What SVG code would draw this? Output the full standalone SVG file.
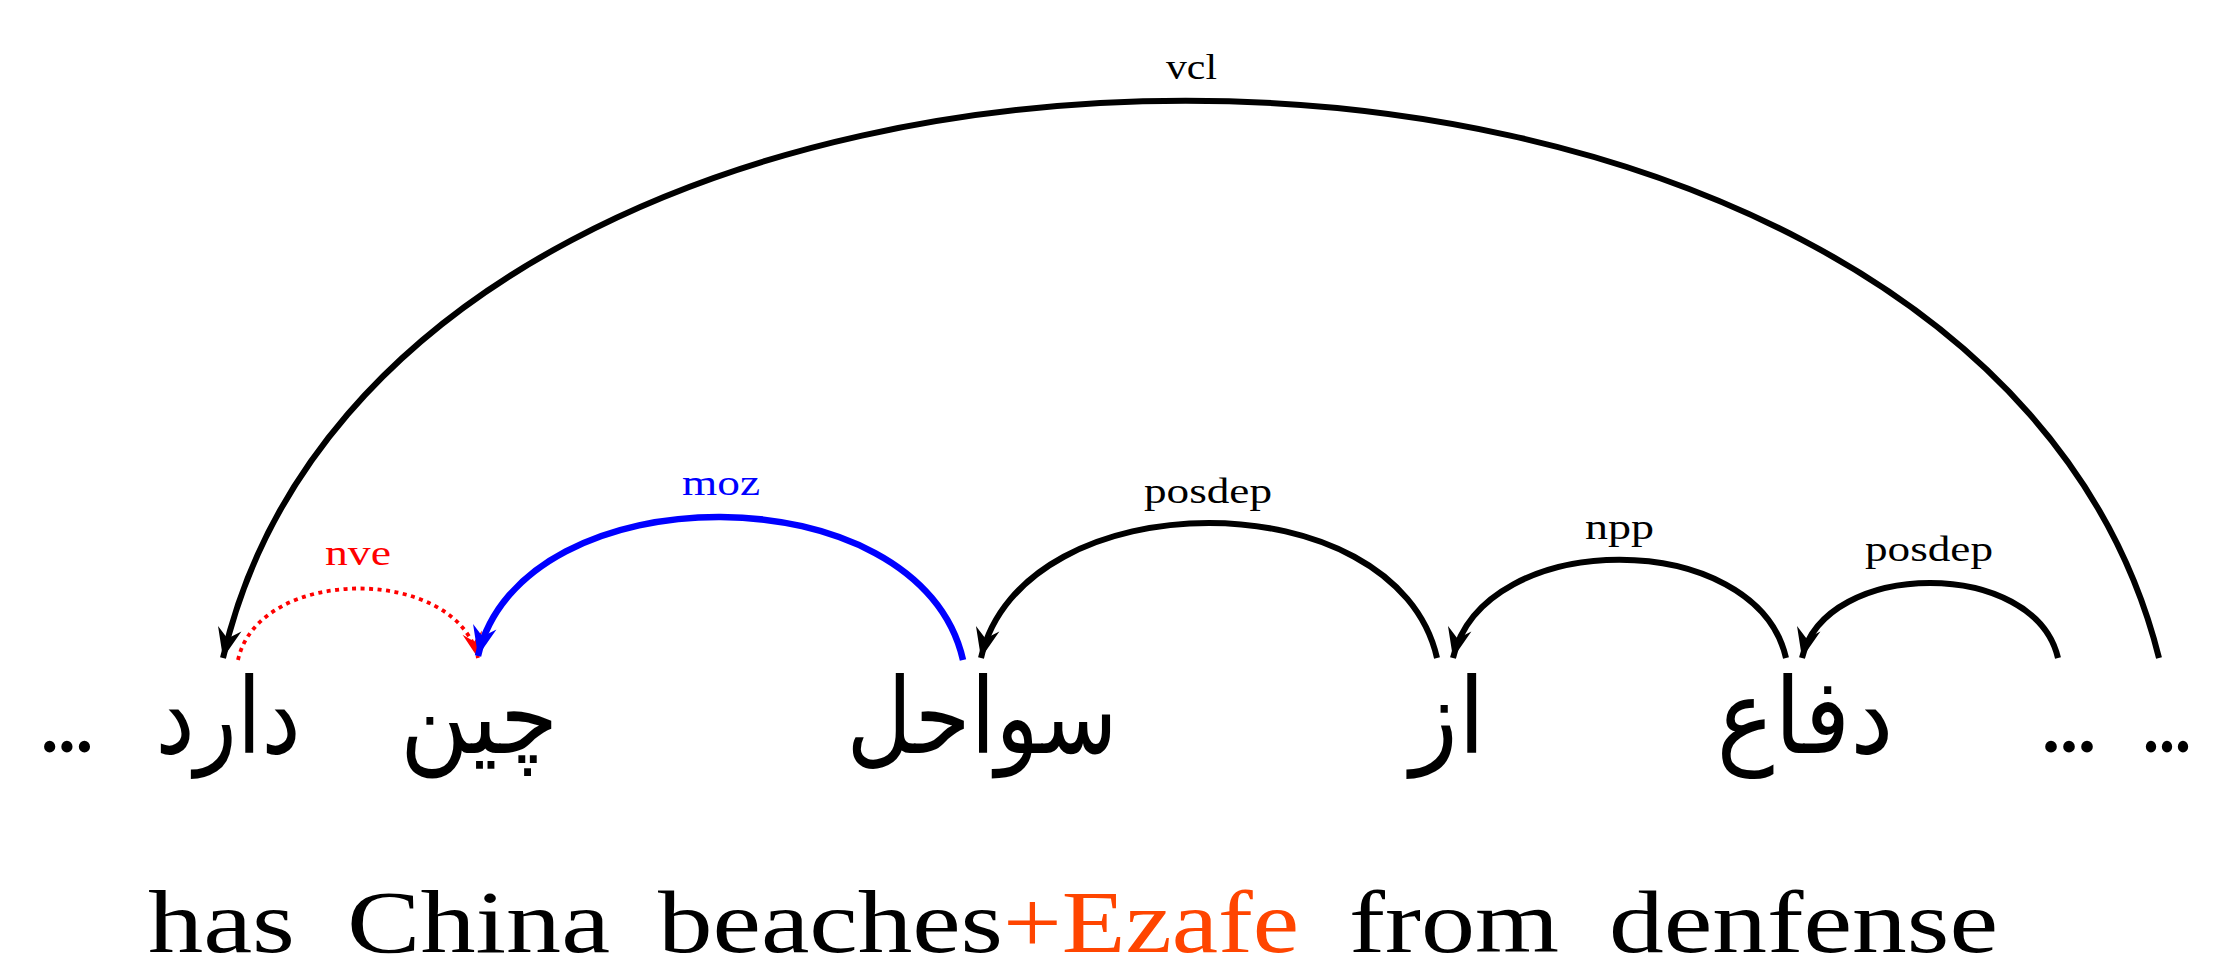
<svg xmlns="http://www.w3.org/2000/svg" width="2217" height="972" viewBox="0 0 2217 972">
  <style>
    .lbl { font-family: "Liberation Serif", "DejaVu Serif", serif; font-size: 35px; fill: #000; }
    .fa { font-family: "DejaVu Sans", sans-serif; font-size: 105px; fill: #000; text-anchor: middle; }
    .dots { font-family: "Liberation Serif", serif; font-size: 72px; font-weight: bold; fill: #000; }
    .gloss { font-family: "Liberation Serif", "DejaVu Serif", serif; font-size: 88px; fill: #000; }
    .edge { fill: none; stroke: #000; stroke-width: 6; marker-end: url(#head-black); }
    .edge.blue { stroke: #0000FF; stroke-width: 6.5; marker-end: url(#head-blue); }
    .edge.red { stroke: #FF0000; stroke-width: 3.8; stroke-dasharray: 4 4.5; marker-end: url(#head-red); }
  </style>
  <defs>
    <marker id="head-black" markerUnits="userSpaceOnUse" orient="auto" overflow="visible" markerWidth="1" markerHeight="1" refX="0" refY="0">
      <path d="M0,0 L-30,-12 L-20,0 L-30,12 Z" fill="#000"/>
    </marker>
    <marker id="head-blue" markerUnits="userSpaceOnUse" orient="auto" overflow="visible" markerWidth="1" markerHeight="1" refX="0" refY="0">
      <path d="M0,0 L-30,-12 L-20,0 L-30,12 Z" fill="#0000FF"/>
    </marker>
    <marker id="head-red" markerUnits="userSpaceOnUse" orient="auto" overflow="visible" markerWidth="1" markerHeight="1" refX="0" refY="0">
      <path d="M0,0 L-26,-10 L-17,0 L-26,10 Z" fill="#FF0000"/>
    </marker>
  </defs>

  <!-- dependency arcs, drawn from head word to dependent -->
  <g id="edges">
    <path class="edge" d="M2159,658 C1974,-85 394,-85 223,658"/>
    <path class="edge red" d="M238,660 C259,565 457,565 478,658"/>
    <path class="edge blue" d="M963,660 C920,470 521,470 478,656"/>
    <path class="edge" d="M1437,658 C1396,478 1022,478 981,658"/>
    <path class="edge" d="M1786,658 C1756,527 1483,527 1453,658"/>
    <path class="edge" d="M2058,658 C2035,558 1825,558 1802,658"/>

    <text class="lbl" x="1166" y="79" textLength="51" lengthAdjust="spacingAndGlyphs">vcl</text>
    <text class="lbl" x="325" y="565" textLength="66" lengthAdjust="spacingAndGlyphs" style="fill:#FF0000">nve</text>
    <text class="lbl" x="682" y="495" textLength="78" lengthAdjust="spacingAndGlyphs" style="fill:#0000FF">moz</text>
    <text class="lbl" x="1144" y="503" textLength="128" lengthAdjust="spacingAndGlyphs">posdep</text>
    <text class="lbl" x="1585" y="539" textLength="69" lengthAdjust="spacingAndGlyphs">npp</text>
    <text class="lbl" x="1865" y="561" textLength="128" lengthAdjust="spacingAndGlyphs">posdep</text>
  </g>

  <!-- sentence tokens -->
  <g id="tok-dots-left"><text class="dots" x="41" y="752" textLength="52" lengthAdjust="spacingAndGlyphs">...</text></g>
  <g id="tok-darad"><text class="fa" x="228" y="753" textLength="145" lengthAdjust="spacingAndGlyphs">دارد</text></g>
  <g id="tok-chin"><text class="fa" x="479" y="753" textLength="158" lengthAdjust="spacingAndGlyphs">چین</text></g>
  <g id="tok-savahel"><text class="fa" x="982" y="753" textLength="271" lengthAdjust="spacingAndGlyphs">سواحل</text></g>
  <g id="tok-az"><text class="fa" x="1448" y="753" textLength="75" lengthAdjust="spacingAndGlyphs">از</text></g>
  <g id="tok-defa"><text class="fa" x="1805" y="753" textLength="177" lengthAdjust="spacingAndGlyphs">دفاع</text></g>
  <g id="tok-dots-1"><text class="dots" x="2042" y="752" textLength="54" lengthAdjust="spacingAndGlyphs">...</text></g>
  <g id="tok-dots-2"><text class="dots" x="2143" y="752" textLength="48" lengthAdjust="spacingAndGlyphs">...</text></g>

  <!-- English gloss -->
  <g id="gloss">
    <text class="gloss" x="148" y="952" textLength="147" lengthAdjust="spacingAndGlyphs">has</text>
    <text class="gloss" x="347" y="952" textLength="263" lengthAdjust="spacingAndGlyphs">China</text>
    <text class="gloss" x="658" y="952" textLength="345" lengthAdjust="spacingAndGlyphs">beaches</text>
    <text class="gloss" x="1003" y="952" textLength="296" lengthAdjust="spacingAndGlyphs" style="fill:#FF4500">+Ezafe</text>
    <text class="gloss" x="1349" y="952" textLength="210" lengthAdjust="spacingAndGlyphs">from</text>
    <text class="gloss" x="1609" y="952" textLength="389" lengthAdjust="spacingAndGlyphs">denfense</text>
  </g>
</svg>
